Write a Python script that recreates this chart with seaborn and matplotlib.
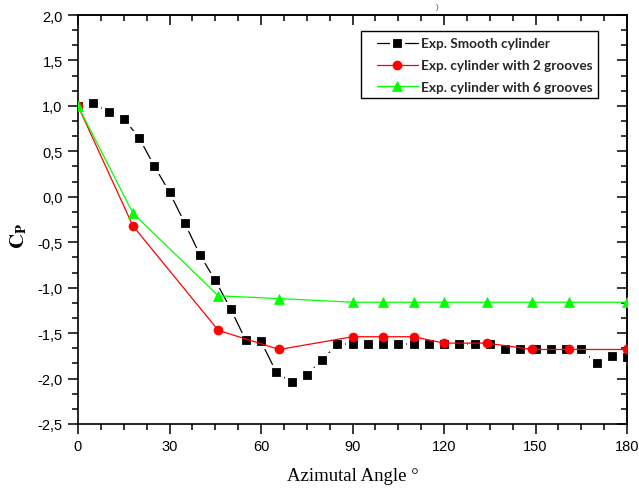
import numpy as np
import pandas as pd
import matplotlib
matplotlib.use("Agg")
import matplotlib.pyplot as plt
import seaborn as sns
from matplotlib.ticker import MultipleLocator, FuncFormatter, NullFormatter
from matplotlib.patches import Rectangle

# ---- data ----
smooth_angle = [0, 5, 10, 15, 20, 25, 30, 35, 40, 45, 50, 55, 60, 65, 70, 75, 80, 85,
                90, 95, 100, 105, 110, 115, 120, 125, 130, 135,
                140, 145, 150, 155, 160, 165, 170, 175, 180]
smooth_cp = [1.00, 1.03, 0.93, 0.86, 0.65, 0.34, 0.05, -0.29, -0.64, -0.92, -1.23, -1.58, -1.59,
             -1.93, -2.04, -1.96, -1.80, -1.62,
             -1.62, -1.62, -1.62, -1.62, -1.62, -1.62, -1.62, -1.62, -1.62, -1.62,
             -1.68, -1.68, -1.68, -1.68, -1.68, -1.68, -1.83, -1.75, -1.76]

g2_angle = [0, 18, 46, 66, 90, 100, 110, 120, 134, 149, 161, 180]
g2_cp = [1.00, -0.32, -1.47, -1.68, -1.54, -1.54, -1.54, -1.61, -1.61, -1.68, -1.68, -1.68]

g6_angle = [0, 18, 46, 66, 90, 100, 110, 120, 134, 149, 161, 180]
g6_cp = [1.00, -0.18, -1.09, -1.12, -1.16, -1.16, -1.16, -1.16, -1.16, -1.16, -1.16, -1.16]

labels = ["Exp. Smooth cylinder", "Exp. cylinder with 2 grooves", "Exp. cylinder with 6 grooves"]
x_ticks = [0, 30, 60, 90, 120, 150, 180]
y_ticks = [-2.5, -2.0, -1.5, -1.0, -0.5, 0.0, 0.5, 1.0, 1.5, 2.0]

sns.set_theme(style="white")
plt.rcParams['font.family'] = ['Liberation Sans', 'DejaVu Sans']
plt.rcParams['mathtext.fontset'] = 'stix'

fig = plt.figure(figsize=(6.39, 4.89), dpi=100)
ax = fig.add_axes([78/639, 1-425/489, 549/639, 409/489])

sns.lineplot(x=smooth_angle, y=smooth_cp, ax=ax, sort=False, estimator=None,
             color='black', lw=0.9, marker='s', markersize=8, markerfacecolor='black',
             markeredgecolor='white', markeredgewidth=2.3, label=labels[0], zorder=2)
sns.lineplot(x=g2_angle, y=g2_cp, ax=ax, sort=False, estimator=None,
             color='#ff0000', lw=0.9, marker='o', markersize=6.5, markerfacecolor='#ff0000',
             markeredgecolor='#ff0000', markeredgewidth=0.5, label=labels[1], zorder=3)
sns.lineplot(x=g6_angle, y=g6_cp, ax=ax, sort=False, estimator=None,
             color='#00ff00', lw=0.9, marker='^', markersize=7.5, markerfacecolor='#00ff00',
             markeredgecolor='#00ff00', markeredgewidth=0.5, label=labels[2], zorder=4)

ax.set_xlim(0, 180)
ax.set_ylim(-2.5, 2.0)
ax.set_xticks(x_ticks)
ax.set_yticks(y_ticks)
ax.xaxis.set_minor_locator(MultipleLocator(7.5))
ax.yaxis.set_minor_locator(MultipleLocator(0.5/3))
ax.yaxis.set_major_formatter(FuncFormatter(lambda v, p: f"{v:.1f}".replace('.', ',')))
ax.xaxis.set_major_formatter(FuncFormatter(lambda v, p: f"{int(round(v))}"))
ax.tick_params(which='both', direction='out', colors='black', labelsize=10.5,
               bottom=True, left=True, top=False, right=False, width=1.1)
ax.tick_params(which='major', length=7, pad=4)
ax.tick_params(which='minor', length=4.5)
for s in ax.spines.values():
    s.set_color('black')
    s.set_linewidth(1.2)
ax.grid(False)

secx = ax.secondary_xaxis('top')
secx.set_xticks(x_ticks)
secx.xaxis.set_minor_locator(MultipleLocator(7.5))
secx.xaxis.set_major_formatter(NullFormatter())
secx.tick_params(which='both', direction='in', colors='black', width=1.1)
secx.tick_params(which='major', length=7)
secx.tick_params(which='minor', length=4.5)
secx.spines['top'].set_linewidth(1.2)

secy = ax.secondary_yaxis('right')
secy.set_yticks(y_ticks)
secy.yaxis.set_minor_locator(MultipleLocator(0.5/3))
secy.yaxis.set_major_formatter(NullFormatter())
secy.tick_params(which='both', direction='in', colors='black', width=1.1)
secy.tick_params(which='major', length=7)
secy.tick_params(which='minor', length=4.5)
secy.spines['right'].set_linewidth(1.2)

ax.set_xlabel("Azimutal Angle °", family=['Liberation Serif', 'DejaVu Serif'], fontsize=13.5,
              color='black')
ax.xaxis.set_label_coords(0.5, -0.105)
ax.set_ylabel(r'$\mathbf{C}_{\mathbf{P}}$', fontsize=15, color='black')
ax.yaxis.set_label_coords(-0.09, 0.462)

# legend box
ax.add_patch(Rectangle(((361-78)/549, (425-99)/409), (598-361)/549, (99-32)/409,
                       transform=ax.transAxes, facecolor='white', edgecolor='black',
                       lw=1.0, zorder=5))
leg = ax.legend(loc='upper left', bbox_to_anchor=((377-78)/549, (425-38.5)/409),
                frameon=False, borderpad=0, borderaxespad=0, handlelength=3.0,
                handletextpad=0.2, labelspacing=0.72,
                prop={'family': ['Lato', 'DejaVu Sans'], 'weight': 'bold', 'size': 9.8})
leg.set_zorder(6)

fig.text(437/639, 1-9/489, ')', fontsize=6, color='#555555', ha='center', va='baseline')

fig.savefig("out.png", dpi=100)
